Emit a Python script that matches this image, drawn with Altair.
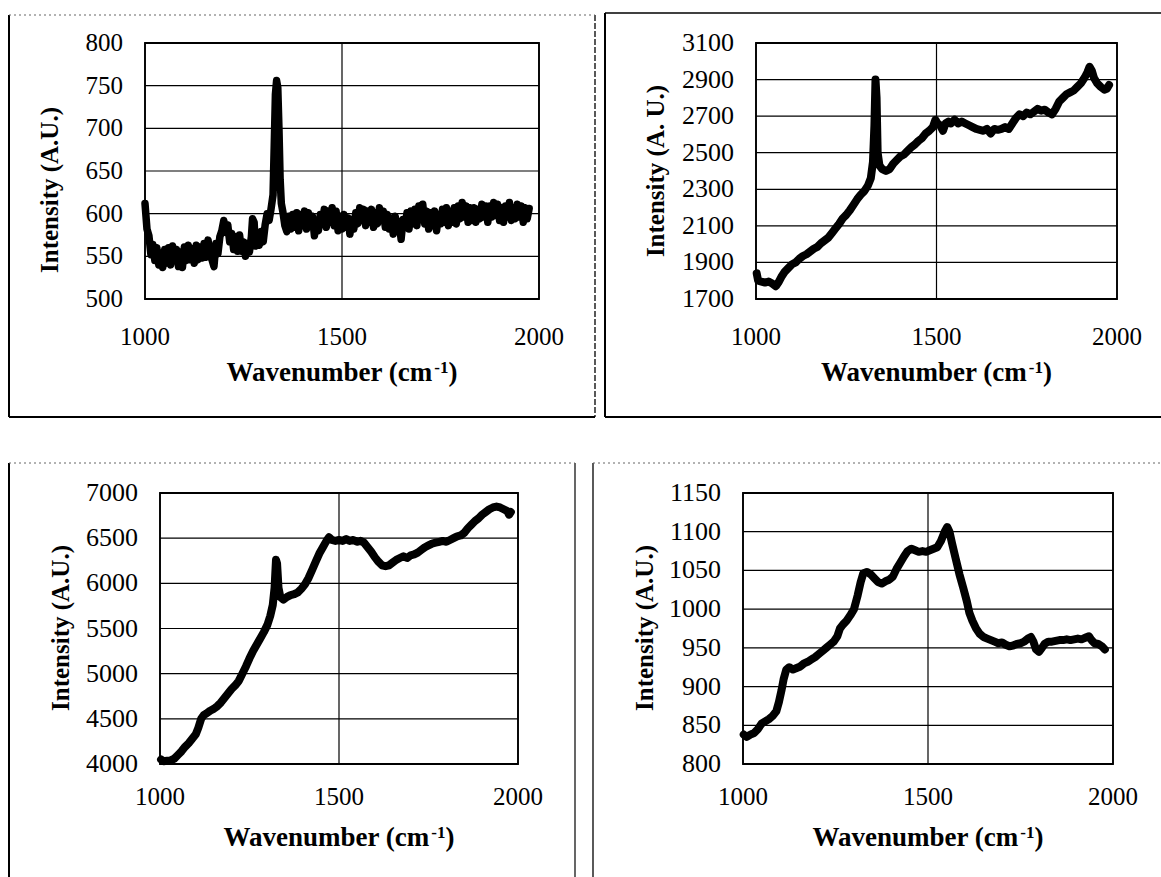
import altair as alt
import pandas as pd

SERIF = "Liberation Serif"
X_TICKS = [1000, 1500, 2000]
X_TITLE_MAIN = "Wavenumber (cm"
X_TITLE_SUP = "-1"
X_TITLE_END = ")"

# ---- spectrum (a): noisy baseline with a sharp band near 1332 ----
a_wn = [1000, 1005, 1010, 1015, 1020, 1025, 1030, 1035, 1040, 1045, 1050, 1055, 1060, 1065, 1070, 1075,
        1080, 1085, 1090, 1095, 1100, 1105, 1110, 1115, 1120, 1125, 1130, 1135, 1140, 1145, 1150, 1155,
        1160, 1165, 1170, 1175, 1180, 1185, 1190, 1195, 1200, 1205, 1210, 1215, 1220, 1225, 1230, 1235,
        1240, 1245, 1250, 1255, 1260, 1265, 1270, 1273, 1277, 1280, 1285, 1290, 1295, 1300, 1305, 1310,
        1315, 1320, 1325, 1328, 1331, 1334, 1337, 1340, 1343, 1346, 1350, 1355, 1360, 1365, 1370, 1375,
        1380, 1385, 1390, 1395, 1400, 1405, 1410, 1415, 1420, 1425, 1430, 1435, 1440, 1445, 1450, 1455,
        1460, 1465, 1470, 1475, 1480, 1485, 1490, 1495, 1500, 1505, 1510, 1515, 1520, 1525, 1530, 1535,
        1540, 1545, 1550, 1555, 1560, 1565, 1570, 1575, 1580, 1585, 1590, 1595, 1600, 1605, 1610, 1615,
        1620, 1625, 1630, 1635, 1640, 1645, 1650, 1655, 1660, 1665, 1670, 1675, 1680, 1685, 1690, 1695,
        1700, 1705, 1710, 1715, 1720, 1725, 1730, 1735, 1740, 1745, 1750, 1755, 1760, 1765, 1770, 1775,
        1780, 1785, 1790, 1795, 1800, 1805, 1810, 1815, 1820, 1825, 1830, 1835, 1840, 1845, 1850, 1855,
        1860, 1865, 1870, 1875, 1880, 1885, 1890, 1895, 1900, 1905, 1910, 1915, 1920, 1925, 1930, 1935,
        1940, 1945, 1950, 1955, 1960, 1965, 1970, 1975]
a_int = [612, 582, 574, 552, 564, 545, 560, 540, 554, 537, 558, 542, 560, 540, 562, 545,
         558, 538, 555, 537, 561, 545, 563, 546, 559, 542, 563, 546, 561, 548, 565, 549,
         569, 552, 546, 538, 565, 553, 573, 580, 592, 578, 587, 567, 577, 558, 573, 556,
         575, 556, 567, 550, 565, 555, 573, 594, 590, 562, 577, 563, 579, 567, 587, 600,
         592, 606, 622, 680, 740, 756, 748, 700, 640, 612, 602, 586, 579, 597, 582, 599,
         584, 601, 580, 599, 586, 603, 582, 601, 587, 597, 574, 591, 580, 599, 588, 605,
         584, 603, 590, 607, 586, 603, 580, 597, 582, 599, 584, 595, 576, 593, 582, 601,
         588, 607, 592, 605, 586, 603, 590, 605, 584, 601, 588, 607, 592, 603, 584, 599,
         582, 595, 576, 597, 582, 591, 570, 593, 584, 601, 582, 603, 588, 605, 586, 609,
         594, 611, 588, 603, 582, 601, 586, 603, 580, 599, 588, 605, 590, 607, 586, 603,
         590, 607, 588, 609, 594, 613, 596, 609, 590, 607, 592, 607, 590, 605, 594, 611,
         596, 609, 590, 609, 596, 613, 598, 611, 592, 607, 590, 609, 596, 613, 592, 607,
         594, 611, 596, 609, 590, 607, 594, 606]
a_yticks = [500, 550, 600, 650, 700, 750, 800]

# ---- spectrum (b) ----
b_wn = [1002, 1006, 1015, 1025, 1035, 1045, 1055, 1062, 1070, 1080, 1090, 1100, 1110, 1120, 1130, 1140,
        1150, 1160, 1170, 1180, 1190, 1200, 1210, 1220, 1230, 1240, 1250, 1260, 1270, 1280, 1290, 1300,
        1310, 1318, 1324, 1328, 1331, 1334, 1337, 1342, 1350, 1360, 1370, 1380, 1390, 1400, 1410, 1420,
        1430, 1440, 1450, 1460, 1470, 1480, 1490, 1497, 1503, 1510, 1518, 1525, 1533, 1540, 1550, 1560,
        1570, 1580, 1590, 1600, 1610, 1620, 1630, 1640, 1650, 1660, 1670, 1680, 1690, 1700, 1710, 1720,
        1730, 1740, 1750, 1760, 1770, 1780, 1790, 1800, 1810, 1820, 1830, 1840, 1850, 1860, 1870, 1880,
        1890, 1900, 1910, 1918, 1924, 1930, 1936, 1945, 1955, 1965, 1972, 1978]
b_int = [1840, 1800, 1795, 1790, 1795, 1785, 1770, 1790, 1820, 1850, 1870, 1890, 1900, 1920, 1935, 1945,
         1960, 1975, 1985, 2005, 2020, 2035, 2060, 2085, 2110, 2140, 2160, 2185, 2215, 2245, 2270, 2290,
         2320, 2360, 2450, 2650, 2900, 2800, 2500, 2430, 2410, 2400, 2410, 2440, 2460, 2480, 2490, 2510,
         2530, 2545, 2565, 2580, 2605, 2620, 2640, 2680, 2660, 2650, 2620, 2660, 2670, 2660, 2680, 2660,
         2670, 2660, 2650, 2640, 2630, 2625, 2620, 2630, 2605, 2630, 2625, 2630, 2640, 2630, 2660, 2690,
         2710, 2700, 2720, 2710, 2725, 2740, 2730, 2735, 2720, 2710, 2740, 2780, 2800, 2820, 2830, 2840,
         2860, 2880, 2910, 2940, 2970, 2950, 2910, 2880, 2860, 2845, 2850, 2870]
b_yticks = [1700, 1900, 2100, 2300, 2500, 2700, 2900, 3100]

# ---- spectrum (c) ----
c_wn = [1003, 1010, 1020, 1030, 1040, 1050, 1060, 1070, 1080, 1090, 1100, 1107, 1115, 1122, 1130, 1140,
        1150, 1160, 1170, 1180, 1190, 1200, 1210, 1220, 1230, 1240, 1250, 1260, 1270, 1280, 1290, 1300,
        1308, 1315, 1320, 1324, 1327, 1331, 1336, 1345, 1355, 1365, 1375, 1385, 1395, 1405, 1415, 1425,
        1435, 1445, 1455, 1465, 1472, 1480, 1490, 1500, 1510, 1520, 1530, 1540, 1550, 1560, 1570, 1580,
        1590, 1600, 1610, 1620, 1630, 1640, 1650, 1660, 1670, 1680, 1690, 1700, 1710, 1720, 1730, 1740,
        1750, 1760, 1770, 1780, 1790, 1800, 1810, 1820, 1830, 1840, 1850, 1860, 1870, 1880, 1890, 1900,
        1910, 1920, 1930, 1940, 1950, 1960, 1970, 1975, 1980]
c_int = [4050, 4030, 4035, 4040, 4060, 4100, 4140, 4190, 4230, 4280, 4330, 4400, 4500, 4540, 4560, 4590,
         4610, 4640, 4680, 4730, 4780, 4830, 4870, 4920, 5000, 5080, 5170, 5250, 5320, 5390, 5460, 5540,
         5640, 5760, 5950, 6260, 6220, 5950, 5850, 5820, 5850, 5870, 5880, 5900, 5940, 5990, 6060, 6150,
         6240, 6330, 6400, 6470, 6510, 6480, 6470, 6480, 6470, 6490, 6470, 6480, 6460, 6470, 6450, 6400,
         6350, 6290, 6240, 6200, 6190, 6200, 6230, 6260, 6280, 6300, 6280, 6310, 6320, 6340, 6370, 6400,
         6420, 6440, 6450, 6460, 6470, 6460, 6480, 6500, 6520, 6530, 6560, 6610, 6650, 6690, 6720, 6760,
         6790, 6820, 6840, 6850, 6840, 6820, 6800, 6760, 6790]
c_yticks = [4000, 4500, 5000, 5500, 6000, 6500, 7000]

# ---- spectrum (d) ----
d_wn = [1002, 1010, 1020, 1030, 1040, 1050, 1060, 1070, 1080, 1090, 1097, 1104, 1110, 1117, 1125, 1135,
        1145, 1155, 1165, 1175, 1185, 1195, 1205, 1215, 1225, 1235, 1245, 1255, 1262, 1270, 1280, 1290,
        1300, 1310, 1318, 1325, 1335, 1345, 1355, 1365, 1375, 1385, 1395, 1405, 1415, 1425, 1435, 1445,
        1455, 1465, 1475, 1485, 1495, 1505, 1515, 1525, 1535, 1545, 1552, 1558, 1565, 1575, 1585, 1595,
        1605, 1612, 1620, 1630, 1640, 1650, 1660, 1670, 1680, 1690, 1700, 1710, 1720, 1730, 1740, 1750,
        1760, 1770, 1778, 1785, 1792, 1800, 1808, 1815, 1825, 1835, 1845, 1855, 1865, 1875, 1885, 1895,
        1905, 1915, 1925, 1935, 1942, 1950, 1960, 1970, 1978]
d_int = [838, 835, 838, 840, 845, 852, 855, 858, 862, 868, 880, 895, 910, 922, 925, 922,
         924, 926, 930, 932, 935, 938, 942, 946, 950, 954, 958, 965, 975, 980, 985, 992,
         1000, 1018, 1035, 1046, 1048, 1045, 1040, 1035, 1033, 1036, 1038, 1042, 1052, 1060, 1068, 1075,
         1078, 1076, 1074, 1075, 1074, 1076, 1078, 1080, 1088, 1100, 1106, 1100, 1085, 1065, 1045, 1028,
         1010, 995, 985, 975, 968, 964, 962, 960, 958, 956, 957, 954, 952, 953, 955, 956,
         958, 962, 964, 958, 948, 945, 950, 955, 958, 958, 959, 960, 960, 961, 960, 961,
         962, 961, 963, 965, 960, 956, 955, 952, 948]
d_yticks = [800, 850, 900, 950, 1000, 1050, 1100, 1150]

one_row = pd.DataFrame({"k": [0]})


def value_text(x, y, text, size, weight="normal", angle=0, align="center", baseline="middle"):
    props = dict(font=SERIF, fontSize=size, fontWeight=weight, color="black",
                 align=align, baseline=baseline)
    if angle:
        props["angle"] = angle
    return alt.Chart(one_row).mark_text(**props).encode(
        x=alt.value(x), y=alt.value(y), text=alt.value(text)
    )


def rule(x1, x2, y1, y2, width, dash=None, color="black"):
    props = {"color": color, "strokeWidth": width}
    if dash:
        props["strokeDash"] = dash
    return alt.Chart(one_row).mark_rule(**props).encode(
        x=alt.value(x1), x2=alt.value(x2), y=alt.value(y1), y2=alt.value(y2)
    )


def panel(wn, inten, yticks, ytitle, xl, xr, yt, yb, ytitle_x, ytitle_y,
          xlab_y, xtitle_base, ylab_size, stroke):
    xs = alt.Scale(domain=[1000, 2000], range=[xl, xr], nice=False, zero=False)
    ys = alt.Scale(domain=[yticks[0], yticks[-1]], range=[yb, yt], nice=False, zero=False)
    spectrum = pd.DataFrame({"wn": wn, "intensity": inten})
    yt_df = pd.DataFrame({"v": yticks, "label": [str(v) for v in yticks]})
    xt_df = pd.DataFrame({"v": X_TICKS, "label": [str(v) for v in X_TICKS]})

    hgrid = alt.Chart(yt_df).mark_rule(color="black", strokeWidth=1.2).encode(
        y=alt.Y("v:Q", scale=ys, axis=None), x=alt.value(xl), x2=alt.value(xr))
    vgrid = alt.Chart(xt_df).mark_rule(color="black", strokeWidth=1.2).encode(
        x=alt.X("v:Q", scale=xs, axis=None), y=alt.value(yt), y2=alt.value(yb))
    frame = alt.Chart(one_row).mark_rect(fillOpacity=0, stroke="black", strokeWidth=1.8).encode(
        x=alt.value(xl), x2=alt.value(xr), y=alt.value(yt), y2=alt.value(yb))
    line = alt.Chart(spectrum).mark_line(
        color="black", strokeWidth=stroke, strokeJoin="round", strokeCap="round"
    ).encode(x=alt.X("wn:Q", scale=xs, axis=None),
             y=alt.Y("intensity:Q", scale=ys, axis=None))
    ylabels = alt.Chart(yt_df).mark_text(
        font=SERIF, fontSize=ylab_size, color="black", align="right", baseline="middle"
    ).encode(y=alt.Y("v:Q", scale=ys, axis=None), x=alt.value(xl - 22), text="label:N")
    xlabels = alt.Chart(xt_df).mark_text(
        font=SERIF, fontSize=25, color="black", align="center", baseline="middle"
    ).encode(x=alt.X("v:Q", scale=xs, axis=None), y=alt.value(xlab_y), text="label:N")

    # x title: "Wavenumber (cm" + superscript "-1" + ")", centred on the plot
    main_w = 7.693 * 27
    sup_w = 0.833 * 17
    x0 = (xl + xr) / 2 - (main_w + sup_w + 0.333 * 27) / 2
    xt_main = value_text(x0, xtitle_base, X_TITLE_MAIN, 27, "bold", align="left", baseline="alphabetic")
    xt_sup = value_text(x0 + main_w, xtitle_base - 8, X_TITLE_SUP, 17, "bold", align="left", baseline="alphabetic")
    xt_end = value_text(x0 + main_w + sup_w, xtitle_base, X_TITLE_END, 27, "bold", align="left", baseline="alphabetic")
    ytitle_mark = value_text(ytitle_x, ytitle_y, ytitle, 25, "bold", angle=270)

    return alt.layer(hgrid, vgrid, frame, line, ylabels, xlabels,
                     xt_main, xt_sup, xt_end, ytitle_mark)


p1 = panel(a_wn, a_int, a_yticks, "Intensity (A.U.)", 145, 539, 43, 299, 50, 190, 337, 381, 25, 7.5)
p2 = panel(b_wn, b_int, b_yticks, "Intensity (A. U.)", 756, 1117, 43, 299, 656, 171, 337, 381, 26, 8)
p3 = panel(c_wn, c_int, c_yticks, "Intensity (A.U.)", 160, 518, 493, 764, 61, 628, 797, 846, 26, 8)
p4 = panel(d_wn, d_int, d_yticks, "Intensity (A.U.)", 743, 1113, 493, 764, 645, 628, 797, 846, 26, 8)

dotted = [2, 3]
boxes = [
    # upper-left figure frame
    rule(9, 9, 15, 417, 2), rule(9, 595, 417, 417, 2),
    rule(595, 595, 15, 417, 1.3, [6, 2]), rule(9, 595, 15, 15, 1, dotted, "#666"),
    # upper-right figure frame
    rule(605, 605, 13, 417, 2), rule(605, 1161, 13, 13, 1.3), rule(605, 1161, 417, 417, 2),
    # lower-left figure frame
    rule(9, 9, 463, 877, 2), rule(575, 575, 463, 877, 1.2), rule(9, 575, 463, 463, 1, dotted, "#666"),
    # lower-right figure frame
    rule(593, 593, 463, 877, 1.3), rule(593, 1161, 463, 463, 1, dotted, "#666"),
]

chart = alt.layer(*boxes, p1, p2, p3, p4).resolve_scale(
    x="independent", y="independent"
).properties(
    width=1161, height=877, padding=0,
    autosize=alt.AutoSizeParams(type="none"),
    background="white",
).configure_view(strokeWidth=0)

chart.save("out.html", embed_options={"renderer": "svg", "actions": False})
